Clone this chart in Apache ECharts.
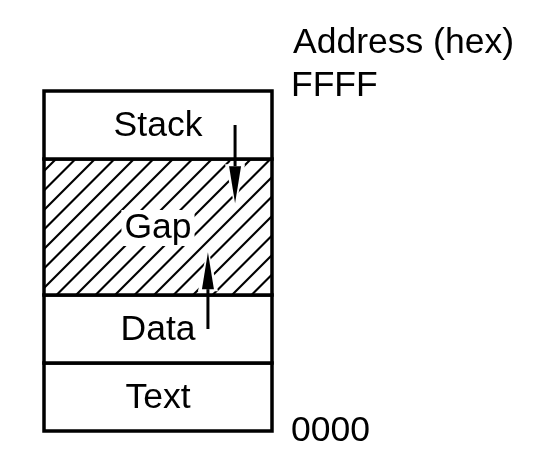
<!DOCTYPE html>
<html>
<head>
<meta charset="utf-8">
<script src="https://cdn.jsdelivr.net/npm/echarts@6/dist/echarts.min.js"></script>
<style>
html, body { margin: 0; padding: 0; background: #fff; }
#main { width: 550px; height: 456px; }
</style>
</head>
<body>
<div id="main"></div>
<script>
// 内存段 (bottom -> top, in segment units)
var segNames = ['Text', 'Data', 'Gap', 'Stack'];
var segFrom  = [0, 1, 2, 4];
var segTo    = [1, 2, 4, 5];
var segHatch = [false, false, true, false];

// 增长方向箭头: x, start y, tip y
var arrowX    = [0.838, 0.719];
var arrowFrom = [4.5, 1.5];
var arrowTo   = [3.35, 2.63];

// 地址刻度
var addrValues = [0, 5];
var addrLabels = ['0000', 'FFFF'];

var FONT = "'Liberation Sans', Arial, sans-serif";
var FSIZE = 35.5;
var HATCH_STEP = 19.5;

// 斜线 (x + y = c), clipped to the rect
function hatchLines(x0, y0, x1, y1) {
    var out = [];
    var c = 215 - Math.ceil((215 - (x0 + y0)) / HATCH_STEP) * HATCH_STEP;
    for (; c < x1 + y1; c += HATCH_STEP) {
        var xa = Math.max(x0, c - y1);
        var xb = Math.min(x1, c - y0);
        if (xb <= xa) continue;
        out.push({
            type: 'line',
            shape: {x1: xa, y1: c - xa, x2: xb, y2: c - xb},
            style: {stroke: '#000', lineWidth: 2.2}
        });
    }
    return out;
}

var segData = [];
for (var i in segNames) {
    segData.push([segFrom[i], segTo[i]]);
}
var arrowData = [];
for (var i in arrowX) {
    arrowData.push([arrowX[i], arrowFrom[i], arrowTo[i]]);
}

var dom   = document.getElementById('main');
var chart = echarts.init(dom);

option = {
    animation: false,
    title: {
        text: 'Address (hex)',
        left: 288,
        top: 20,
        textStyle: {fontSize: FSIZE, fontWeight: 'normal', color: '#000', fontFamily: FONT}
    },
    grid: {left: 44, top: 91, width: 228, height: 340},
    xAxis: {type: 'value', min: 0, max: 1, show: false},
    yAxis: {
        type: 'value',
        min: 0,
        max: 5,
        interval: 5,
        position: 'right',
        axisLine: {show: false},
        axisTick: {show: false},
        splitLine: {show: false},
        axisLabel: {
            margin: 19,
            fontSize: FSIZE,
            color: '#000',
            fontFamily: FONT,
            formatter: function (v) {
                var k = addrValues.indexOf(v);
                if (k < 0) return '';
                return v === 5 ? '{top|' + addrLabels[k] + '}' : addrLabels[k];
            },
            rich: {
                top: {fontSize: FSIZE, color: '#000', fontFamily: FONT, padding: [0, 0, 10, 0]}
            }
        }
    },
    series: [
        {
            type: 'custom',
            data: segData,
            z: 1,
            renderItem: function (params, api) {
                var i  = params.dataIndex;
                var lt = api.coord([0, api.value(1)]);
                var rb = api.coord([1, api.value(0)]);
                var children = [{
                    type: 'rect',
                    shape: {x: lt[0], y: lt[1], width: rb[0] - lt[0], height: rb[1] - lt[1]},
                    style: {fill: '#fff', stroke: null}
                }];
                if (segHatch[i]) {
                    children = children.concat(hatchLines(lt[0], lt[1], rb[0], rb[1]));
                }
                children.push({
                    type: 'rect',
                    shape: {x: lt[0], y: lt[1], width: rb[0] - lt[0], height: rb[1] - lt[1]},
                    style: {fill: null, stroke: '#000', lineWidth: 3.5}
                });
                children.push({
                    type: 'text',
                    x: (lt[0] + rb[0]) / 2,
                    y: (lt[1] + rb[1]) / 2 + 1,
                    style: {
                        text: segNames[i],
                        fontSize: FSIZE,
                        fontFamily: FONT,
                        fill: '#000',
                        align: 'center',
                        verticalAlign: 'middle',
                        backgroundColor: segHatch[i] ? '#fff' : null,
                        padding: segHatch[i] ? [0, 3] : 0
                    }
                });
                return {type: 'group', children: children};
            }
        },
        {
            type: 'custom',
            data: arrowData,
            z: 2,
            renderItem: function (params, api) {
                var s = api.coord([api.value(0), api.value(1)]);
                var t = api.coord([api.value(0), api.value(2)]);
                var gTop = api.coord([0, segTo[2]])[1] + 2;
                var gBot = api.coord([0, segFrom[2]])[1] - 2;
                var dir  = t[1] > s[1] ? 1 : -1;
                var headLen = 37, headW = 6;
                var base = t[1] - dir * headLen;
                var hs = Math.min(Math.max(s[1], gTop), gBot);
                var x  = t[0];
                return {
                    type: 'group',
                    children: [{
                        type: 'line',
                        shape: {x1: x, y1: hs, x2: x, y2: base},
                        style: {stroke: '#fff', lineWidth: 9}
                    }, {
                        type: 'polygon',
                        shape: {points: [[x, t[1] + dir * 5], [x - headW - 4, base - dir * 2], [x + headW + 4, base - dir * 2]]},
                        style: {fill: '#fff'}
                    }, {
                        type: 'line',
                        shape: {x1: x, y1: s[1], x2: x, y2: base},
                        style: {stroke: '#000', lineWidth: 3}
                    }, {
                        type: 'polygon',
                        shape: {points: [[x, t[1]], [x - headW, base], [x + headW, base]]},
                        style: {fill: '#000'}
                    }]
                };
            }
        }
    ]
};

chart.setOption(option, true);
</script>
</body>
</html>
